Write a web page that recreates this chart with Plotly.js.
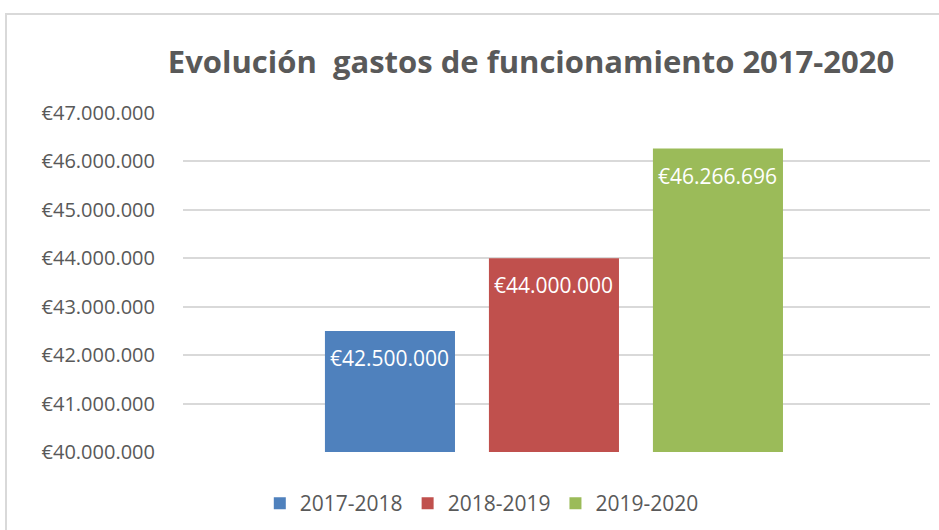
<!DOCTYPE html>
<html>
<head>
<meta charset="utf-8">
<script src="https://cdn.plot.ly/plotly-3.0.1.min.js"></script>
<style>
html,body{margin:0;padding:0;background:#fff;overflow:hidden;}
#wrap{position:relative;width:939px;height:530px;}
#chart{width:939px;height:530px;}
#frame{position:absolute;left:5px;top:13px;width:2000px;height:2000px;border-left:2px solid #d9d9d9;border-top:2px solid #d9d9d9;pointer-events:none;}
</style>
</head>
<body>
<div id="wrap"><div id="chart"></div><div id="frame"></div></div>
<script>
const titleText = 'Evolución  gastos de funcionamiento 2017-2020';
const seriesNames = ['2017-2018', '2018-2019', '2019-2020'];
const seriesValues = [42500000, 44000000, 46266696];
const seriesColors = ['#4F81BD', '#C0504D', '#9BBB59'];
const yTickValues = [40000000, 41000000, 42000000, 43000000, 44000000, 45000000, 46000000, 47000000];

function fmtEuro(v) {
  return '€' + Math.round(v).toString().replace(/\B(?=(\d{3})+(?!\d))/g, '.');
}
const yTickLabels = yTickValues.map(fmtEuro);

const traces = seriesNames.map((name, i) => ({
  type: 'bar',
  name: name,
  x: [name],
  y: [seriesValues[i]],
  marker: {color: seriesColors[i]},
  hoverinfo: 'none'
}));

const annotations = seriesNames.map((name, i) => ({
  x: name, y: seriesValues[i], xref: 'x', yref: 'y',
  text: fmtEuro(seriesValues[i]),
  showarrow: false, yanchor: 'middle', xanchor: 'center', yshift: -27,
  font: {family: 'Open Sans', size: 21, color: '#ffffff'}
}));

const layout = {
  width: 939, height: 530,
  margin: {l: 183, r: 9, t: 113, b: 78, pad: 0, autoexpand: false},
  paper_bgcolor: '#ffffff', plot_bgcolor: '#ffffff',
  title: {
    text: titleText, xref: 'container', yref: 'container',
    x: 0.5655, y: 1 - 62/530, xanchor: 'center', yanchor: 'middle',
    font: {family: 'Open Sans', size: 31, color: '#595959', weight: 'bold'}
  },
  barmode: 'overlay',
  bargap: 0.207,
  xaxis: {
    type: 'category', range: [-1.262, 3.293], automargin: false,
    showticklabels: false, showgrid: false, zeroline: false, showline: false, ticks: ''
  },
  yaxis: {
    range: [40000000, 47000000], tickmode: 'array', tickvals: yTickValues, ticktext: yTickLabels,
    automargin: false,
    showgrid: true, gridcolor: '#d9d9d9', gridwidth: 2,
    zeroline: false, showline: false, ticks: '',
    ticklabelstandoff: 27,
    tickfont: {family: 'Open Sans', size: 20, color: '#595959'}
  },
  showlegend: true,
  legend: {
    orientation: 'h', x: 0.40, xanchor: 'center', y: -0.152, yanchor: 'middle',
    font: {family: 'Open Sans', size: 21, color: '#595959'},
    itemwidth: 30, traceorder: 'normal'
  },
  annotations: annotations
};

Plotly.newPlot('chart', traces, layout, {displayModeBar: false, staticPlot: true});
</script>
</body>
</html>
